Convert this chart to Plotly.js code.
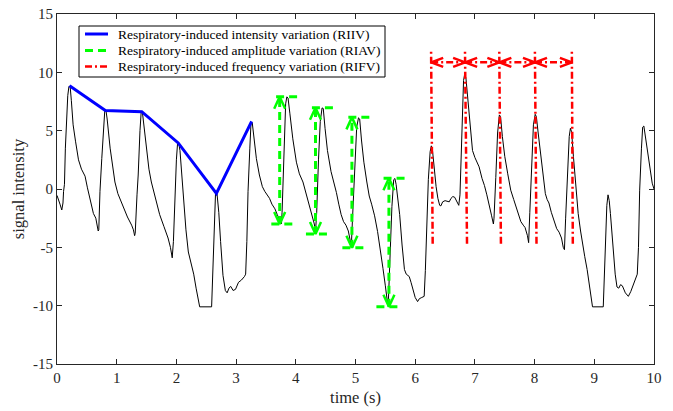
<!DOCTYPE html>
<html><head><meta charset="utf-8">
<script src="https://cdn.plot.ly/plotly-3.0.1.min.js"></script>
<style>html,body{margin:0;padding:0;background:#fff;} #plot{width:673px;height:411px;}</style>
</head><body><div id="plot"></div>
<script>
// ---- signal (time in s, signal intensity) ----
const time = [
  0, 0.02, 0.05, 0.08, 0.10, 0.11, 0.125, 0.14, 0.16, 0.18,
  0.20, 0.22, 0.24, 0.27, 0.31, 0.36, 0.41, 0.47, 0.51, 0.55,
  0.61, 0.65, 0.69, 0.70, 0.72, 0.75, 0.78, 0.80, 0.82, 0.84,
  0.89, 0.93, 0.97, 1.02, 1.11, 1.18, 1.25, 1.28, 1.30, 1.31,
  1.34, 1.36, 1.39, 1.41, 1.43, 1.45, 1.50, 1.54, 1.58, 1.65,
  1.72, 1.79, 1.86, 1.90, 1.93, 1.95, 1.97, 2.00, 2.02, 2.04,
  2.06, 2.09, 2.12, 2.16, 2.20, 2.25, 2.29, 2.33, 2.39, 2.59,
  2.61, 2.63, 2.655, 2.68, 2.71, 2.74, 2.78, 2.82, 2.85, 2.88,
  2.91, 2.95, 2.99, 3.04, 3.09, 3.14, 3.16, 3.18, 3.20, 3.23,
  3.25, 3.27, 3.30, 3.34, 3.39, 3.44, 3.48, 3.52, 3.56, 3.60,
  3.65, 3.69, 3.73, 3.76, 3.77, 3.80, 3.83, 3.85, 3.87, 3.90,
  3.95, 4.01, 4.06, 4.12, 4.18, 4.23, 4.28, 4.31, 4.33, 4.35,
  4.38, 4.41, 4.44, 4.46, 4.49, 4.53, 4.59, 4.64, 4.68, 4.72,
  4.76, 4.80, 4.84, 4.88, 4.92, 4.93, 4.95, 4.98, 5.02, 5.05,
  5.07, 5.10, 5.14, 5.19, 5.23, 5.27, 5.32, 5.37, 5.42, 5.46,
  5.50, 5.54, 5.55, 5.58, 5.61, 5.64, 5.66, 5.68, 5.71, 5.74,
  5.78, 5.82, 5.85, 5.90, 5.93, 5.96, 6.00, 6.04, 6.07, 6.11,
  6.15, 6.17, 6.19, 6.22, 6.25, 6.27, 6.29, 6.32, 6.35, 6.38,
  6.41, 6.43, 6.46, 6.50, 6.54, 6.57, 6.60, 6.63, 6.66, 6.68,
  6.71, 6.73, 6.75, 6.78, 6.81, 6.83, 6.85, 6.88, 6.92, 6.96,
  7.00, 7.03, 7.07, 7.12, 7.16, 7.20, 7.24, 7.28, 7.31, 7.32,
  7.35, 7.38, 7.41, 7.43, 7.46, 7.50, 7.55, 7.60, 7.65, 7.69,
  7.73, 7.77, 7.81, 7.84, 7.88, 7.90, 7.92, 7.95, 7.98, 8.01,
  8.03, 8.06, 8.10, 8.14, 8.18, 8.21, 8.24, 8.28, 8.33, 8.37,
  8.41, 8.45, 8.48, 8.50, 8.52, 8.55, 8.58, 8.60, 8.62, 8.65,
  8.69, 8.73, 8.77, 8.80, 8.84, 8.88, 8.92, 8.97, 9.15, 9.17,
  9.19, 9.21, 9.23, 9.25, 9.27, 9.31, 9.35, 9.38, 9.41, 9.44,
  9.47, 9.52, 9.57, 9.61, 9.64, 9.68, 9.72, 9.74, 9.76, 9.79,
  9.81, 9.83, 9.86, 9.89, 9.93, 9.97, 10.0
];
const signal = [
  -0.55, -0.8, -1.3, -1.8, -1.2, -0.2, 0.4, 3.5, 6.2, 8.0,
  8.8, 8.8, 7.6, 5.5, 4.1, 2.5, 1.7, 1.1, 0.1, -0.9,
  -2.1, -2.5, -3.6, -3.5, -0.2, 2.6, 5.5, 6.7, 6.75, 6.0,
  3.5, 2.0, 0.6, -0.4, -1.6, -2.4, -3.1, -3.5, -4.0, -3.8,
  -0.5, 1.2, 5.0, 6.6, 6.6, 5.6, 3.2, 1.7, 0.6, -0.9,
  -2.2, -3.2, -4.2, -5.0, -5.9, -4.5, -1.1, 2.5, 3.95, 3.9,
  3.3, 1.0, -1.0, -3.5, -5.4, -6.5, -7.3, -8.5, -10.1, -10.1,
  -7.0, -3.1, -0.4, -0.4, -2.0, -4.5, -7.4, -8.7, -8.9, -8.5,
  -8.35, -8.7, -8.6, -8.0, -7.8, -7.5, -7.3, -4.5, -0.2, 3.5,
  5.7, 5.7, 4.4, 2.6, 1.2, 0.2, -0.2, -0.5, -0.8, -1.3,
  -1.7, -2.2, -2.7, -3.0, -2.0, 3.5, 7.3, 7.9, 7.8, 6.5,
  4.3, 2.3, 1.3, 0.6, -0.5, -1.5, -2.5, -3.0, -3.7, -2.0,
  2.5, 5.8, 6.95, 6.9, 5.2, 3.3, 1.5, 0.6, -0.3, -1.3,
  -2.2, -2.8, -3.1, -3.6, -4.8, -4.9, -2.5, 1.5, 5.3, 6.1,
  6.0, 4.2, 2.3, 0.6, -0.6, -1.3, -2.3, -3.65, -5.2, -6.8,
  -8.3, -9.9, -9.7, -5.5, -1.5, 0.8, 0.9, 0.4, -0.8, -2.2,
  -4.8, -6.9, -7.3, -7.5, -8.0, -8.6, -9.3, -9.65, -9.4, -9.3,
  -9.2, -7.0, -3.2, 0.8, 3.2, 3.7, 3.3, 1.6, 0.2, -0.8,
  -1.4, -1.45, -1.1, -1.0, -1.05, -1.1, -0.8, -0.65, -0.7, -0.9,
  -1.3, -1.4, -0.5, 5.3, 9.3, 9.9, 9.5, 7.8, 5.5, 3.3,
  2.7, 2.4, 1.9, 0.9, 0.3, -0.5, -1.3, -2.3, -3.0, -2.5,
  1.0, 4.8, 6.35, 6.2, 4.5, 2.8, 1.3, -0.1, -0.9, -1.5,
  -2.3, -2.8, -3.1, -3.3, -4.0, -4.6, -2.0, 2.5, 5.5, 6.4,
  6.2, 4.8, 3.0, 1.2, -0.4, -0.9, -1.2, -2.0, -2.9, -3.4,
  -3.7, -4.2, -5.0, -5.2, -2.5, 1.35, 4.5, 5.2, 4.9, 2.8,
  0.0, -2.1, -3.6, -4.65, -5.8, -6.9, -8.4, -10.1, -10.1, -7.5,
  -4.4, -1.4, -0.5, -1.0, -2.1, -5.0, -7.3, -8.4, -8.5, -8.2,
  -8.3, -8.9, -9.2, -8.8, -8.4, -7.9, -7.3, -5.0, -0.1, 3.5,
  5.3, 5.4, 4.3, 3.0, 1.7, 0.5, 0.0
];

// ---- RIIV: line through peaks ----
const riivT = [0.21, 0.81, 1.42, 2.03, 2.67, 3.26];
const riivV = [8.85, 6.72, 6.63, 3.95, -0.38, 5.8];

// ---- RIAV: peak-to-trough double arrows ----
const riavX = [3.73, 4.33, 4.94, 5.56];
const riavTop = [7.9, 6.97, 6.14, 0.92];
const riavBottom = [-3.0, -3.86, -5.03, -10.09];
const riavPeakT = [3.85, 4.45, 5.06, 5.65];
const riavTroughT = [3.77, 4.35, 4.96, 5.53];
const riavHalf = 0.18;

// ---- RIFV: peak-to-peak intervals ----
const rifvTopX = [6.266, 6.834, 7.408, 8.005, 8.624];
const rifvBottomX = [6.293, 6.868, 7.436, 8.032, 8.640];
const rifvYRange = [-4.7, 11.9];
const rifvArrowY = 10.86;

const legendLabels = [
  'Respiratory-induced intensity variation (RIIV)',
  'Respiratory-induced amplitude variation (RIAV)',
  'Respiratory-induced frequency variation (RIFV)'
];
const xTicks = [0,1,2,3,4,5,6,7,8,9,10];
const yTicks = [-15,-10,-5,0,5,10,15];

// ---- layout geometry ----
const W = 673, H = 411;
const M = {l: 57, r: 19, t: 14, b: 47};
const xRange = [0, 10], yRange = [-15, 15];
const pxX = (W - M.l - M.r) / (xRange[1] - xRange[0]);
const pxY = (H - M.t - M.b) / (yRange[1] - yRange[0]);

const GREEN = '#00ff00', RED = '#ff0000', BLUE = '#0000ff';
const FONT = 'Liberation Serif, Times New Roman, serif';

// arrowhead helpers (pixel-sized heads converted to data units)
function headV(x, y, dir, hw, hl) { // dir=+1 pointing up, -1 pointing down
  return {x: [x - hw / pxX, x, x + hw / pxX, null], y: [y - dir * hl / pxY, y, y - dir * hl / pxY, null]};
}
function headH(x, y, dir, hw, hl) { // dir=+1 pointing right, -1 left
  return {x: [x - dir * hl / pxX, x, x - dir * hl / pxX, null], y: [y + hw / pxY, y, y - hw / pxY, null]};
}
function concat(list) {
  const o = {x: [], y: []};
  list.forEach(p => { o.x.push(...p.x); o.y.push(...p.y); });
  return o;
}

// RIAV geometry
const riavLines = {x: [], y: []}, riavTicks = {x: [], y: []}, riavHeads = [];
riavX.forEach((x, i) => {
  riavLines.x.push(x, x, null); riavLines.y.push(riavBottom[i], riavTop[i], null);
  riavTicks.x.push(riavPeakT[i] - riavHalf, riavPeakT[i] + riavHalf, null);
  riavTicks.y.push(riavTop[i], riavTop[i], null);
  riavTicks.x.push(riavTroughT[i] - riavHalf, riavTroughT[i] + riavHalf, null);
  riavTicks.y.push(riavBottom[i], riavBottom[i], null);
  riavHeads.push(headV(x, riavTop[i], 1, 5.5, 12));
  riavHeads.push(headV(x, riavBottom[i], -1, 5.5, 12));
});
const riavHeadPts = concat(riavHeads);

// RIFV geometry
const rifvLines = {x: [], y: []}, rifvArrows = {x: [], y: []}, rifvHeads = [];
const frac = (rifvArrowY - rifvYRange[0]) / (rifvYRange[1] - rifvYRange[0]);
const lineXAt = i => rifvBottomX[i] + (rifvTopX[i] - rifvBottomX[i]) * frac;
rifvTopX.forEach((x, i) => {
  rifvLines.x.push(rifvBottomX[i], x, null); rifvLines.y.push(rifvYRange[0], rifvYRange[1], null);
});
for (let i = 0; i < rifvTopX.length - 1; i++) {
  const a = lineXAt(i), b = lineXAt(i + 1);
  rifvArrows.x.push(a, b, null); rifvArrows.y.push(rifvArrowY, rifvArrowY, null);
  rifvHeads.push(headH(a, rifvArrowY, -1, 4.5, 12));
  rifvHeads.push(headH(b, rifvArrowY, 1, 4.5, 12));
}
const rifvHeadPts = concat(rifvHeads);

const traces = [
  {x: time, y: signal, mode: 'lines', line: {color: '#000', width: 1}, showlegend: false, hoverinfo: 'skip'},
  {x: riivT, y: riivV, mode: 'lines', line: {color: BLUE, width: 3}, showlegend: false},
  {x: riavLines.x, y: riavLines.y, mode: 'lines', line: {color: GREEN, width: 3, dash: '8px,5px'}, showlegend: false},
  {x: riavTicks.x, y: riavTicks.y, mode: 'lines', line: {color: GREEN, width: 3, dash: '8px,5px'}, showlegend: false},
  {x: riavHeadPts.x, y: riavHeadPts.y, mode: 'lines', line: {color: GREEN, width: 2.5}, showlegend: false},
  {x: rifvLines.x, y: rifvLines.y, mode: 'lines', line: {color: RED, width: 2.5, dash: '7px,3px,2px,3px'}, showlegend: false},
  {x: rifvArrows.x, y: rifvArrows.y, mode: 'lines', line: {color: RED, width: 2.5, dash: '7px,3px,2px,3px'}, showlegend: false},
  {x: rifvHeadPts.x, y: rifvHeadPts.y, mode: 'lines', line: {color: RED, width: 2.5}, showlegend: false}
];

// custom legend (box, samples, labels) in paper coords
const plotW = W - M.l - M.r, plotH = H - M.t - M.b;
const px2paperX = px => (px - M.l) / plotW;
const py2paperY = py => (H - M.b - py) / plotH;
const legRows = [34, 50.5, 66.5];
const legStyles = [
  {color: BLUE, width: 3, dash: 'solid'},
  {color: GREEN, width: 3, dash: '8px,5px'},
  {color: RED, width: 2.5, dash: '7px,3px,2px,3px'}
];
const shapes = [{type: 'rect', xref: 'paper', yref: 'paper',
  x0: px2paperX(79), x1: px2paperX(385), y0: py2paperY(77), y1: py2paperY(26),
  line: {color: '#000', width: 1}, fillcolor: '#fff', layer: 'above'}];
const annotations = [];
legendLabels.forEach((lab, i) => {
  shapes.push({type: 'line', xref: 'paper', yref: 'paper', x0: px2paperX(85), x1: px2paperX(108),
    y0: py2paperY(legRows[i]), y1: py2paperY(legRows[i]), line: legStyles[i], layer: 'above'});
  annotations.push({xref: 'paper', yref: 'paper', x: px2paperX(116), y: py2paperY(legRows[i]),
    xanchor: 'left', yanchor: 'middle', text: lab, showarrow: false,
    font: {family: FONT, size: 13.5, color: '#000'}});
});

const axisCommon = {
  showgrid: false, zeroline: false, showline: true, mirror: 'ticks', linecolor: '#262626', linewidth: 1,
  ticks: 'inside', ticklen: 5, tickwidth: 1, tickcolor: '#262626',
  tickfont: {family: FONT, size: 15, color: '#262626'}, automargin: false, fixedrange: true
};
const layout = {
  width: W, height: H, margin: M, paper_bgcolor: '#fff', plot_bgcolor: '#fff', showlegend: false,
  xaxis: Object.assign({}, axisCommon, {range: xRange, tickvals: xTicks, ticktext: xTicks.map(String),
    title: {text: 'time (s)', font: {family: FONT, size: 16.5, color: '#262626'}, standoff: 6}}),
  yaxis: Object.assign({}, axisCommon, {range: yRange, tickvals: yTicks, ticktext: yTicks.map(String),
    title: {text: 'signal intensity', font: {family: FONT, size: 16.5, color: '#262626'}, standoff: 4}}),
  shapes: shapes, annotations: annotations
};
Plotly.newPlot('plot', traces, layout, {displayModeBar: false, staticPlot: true});
</script>
</body></html>
